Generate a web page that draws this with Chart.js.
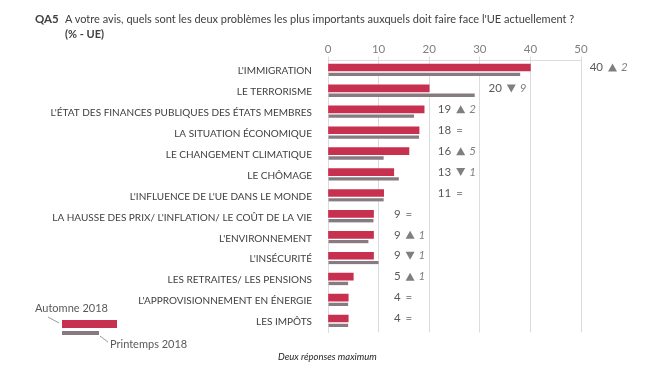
<!DOCTYPE html>
<html lang="fr">
<head>
    <meta charset="UTF-8">
    <title>QA5 - Problèmes UE</title>
    <style>
        body {
            margin: 0;
            background: #ffffff;
            font-family: Lato, "Open Sans", sans-serif;
        }
        .wrap {
            position: relative;
            width: 650px;
            height: 379px;
            overflow: hidden;
        }
        canvas {
            position: absolute;
            left: 0;
            top: 0;
        }
        .txt {
            position: absolute;
            white-space: nowrap;
            color: #404040;
            font-size: 11px;
        }
        .bold { font-weight: bold; }
    </style>
    <script src="https://cdn.jsdelivr.net/npm/chart.js"></script>
</head>
<body>
<div class="wrap">
    <canvas id="chart" width="650" height="379"></canvas>
    <div class="txt bold" style="left:35px; top:12px; font-size:11.5px;">QA5</div>
    <div class="txt" style="left:65px; top:12px;">A votre avis, quels sont les deux problèmes les plus importants auxquels doit faire face l'UE actuellement ?</div>
    <div class="txt bold" style="left:65px; top:27px;">(% - UE)</div>

    <div class="txt" style="left:35px; top:301px; color:#595959;">Automne 2018</div>
    <div style="position:absolute; left:62px; top:320px; width:55px; height:8px; background:#c8304f;"></div>
    <div style="position:absolute; left:62px; top:331px; width:37px; height:4px; background:#877a80;"></div>
    <div class="txt" style="left:110px; top:337px; color:#595959;">Printemps 2018</div>
    <svg style="position:absolute; left:0; top:0;" width="650" height="379">
        <line x1="48" y1="317" x2="59" y2="323" stroke="#808080" stroke-width="0.8"/>
        <line x1="100" y1="336" x2="108" y2="342" stroke="#808080" stroke-width="0.8"/>
    </svg>
    <div class="txt" style="left:278px; top:351px; font-size:9.5px; font-style:italic; color:#262626;">Deux réponses maximum</div>
</div>

<script>
    const categories = [
        "L'IMMIGRATION",
        "LE TERRORISME",
        "L'ÉTAT DES FINANCES PUBLIQUES DES ÉTATS MEMBRES",
        "LA SITUATION ÉCONOMIQUE",
        "LE CHANGEMENT CLIMATIQUE",
        "LE CHÔMAGE",
        "L'INFLUENCE DE L'UE DANS LE MONDE",
        "LA HAUSSE DES PRIX/ L'INFLATION/ LE COÛT DE LA VIE",
        "L'ENVIRONNEMENT",
        "L'INSÉCURITÉ",
        "LES RETRAITES/ LES PENSIONS",
        "L'APPROVISIONNEMENT EN ÉNERGIE",
        "LES IMPÔTS"
    ];
    const automne2018 = [40, 20, 19, 18, 16, 13, 11, 9, 9, 9, 5, 4, 4];
    const printemps2018 = [38, 29, 17, 18, 11, 14, 11, 9, 8, 10, 4, 4, 4];
    const evolution = [2, -9, 2, 0, 5, -1, 0, 0, 1, -1, 1, 0, 0];
    const xTicks = [0, 10, 20, 30, 40, 50];

    const red = '#c8304f';
    const grey = '#877a80';
    const gridColor = '#dcdcdc';

    // annotations "valeur ▲ évolution" placed after the next gridline
    const annotationPlugin = {
        id: 'annotations',
        afterDatasetsDraw(chart) {
            const ctx = chart.ctx;
            const x = chart.scales.x;
            const y = chart.scales.y;
            ctx.save();
            categories.forEach((c, i) => {
                const col = (Math.floor(automne2018[i] / 10) + 1) * 10;
                const xr = x.getPixelForValue(col) + 22;
                const yc = y.getPixelForValue(i) - 3.5;
                ctx.textBaseline = 'middle';
                ctx.font = '11.5px Lato';
                ctx.fillStyle = '#595959';
                ctx.textAlign = 'right';
                ctx.fillText(String(automne2018[i]), xr, yc);
                ctx.textAlign = 'left';
                const d = evolution[i];
                if (d === 0) {
                    ctx.fillStyle = '#8c8c8c';
                    ctx.fillText('=', xr + 5, yc);
                } else {
                    ctx.fillStyle = '#7f7f7f';
                    ctx.beginPath();
                    if (d > 0) {
                        ctx.moveTo(xr + 5, yc + 4);
                        ctx.lineTo(xr + 14, yc + 4);
                        ctx.lineTo(xr + 9.5, yc - 4);
                    } else {
                        ctx.moveTo(xr + 5, yc - 4);
                        ctx.lineTo(xr + 14, yc - 4);
                        ctx.lineTo(xr + 9.5, yc + 4);
                    }
                    ctx.closePath();
                    ctx.fill();
                    ctx.font = 'italic 11.5px Lato';
                    ctx.fillText(String(Math.abs(d)), xr + 18, yc);
                }
            });
            ctx.restore();
        }
    };

    new Chart(document.getElementById('chart'), {
        type: 'bar',
        data: {
            labels: categories,
            datasets: [{
                label: 'Automne 2018',
                data: automne2018,
                backgroundColor: red,
                barThickness: 7,
                borderWidth: 0
            }, {
                label: 'Printemps 2018',
                data: printemps2018,
                backgroundColor: grey,
                borderColor: '#ffffff',
                borderWidth: { top: 2, right: 0, bottom: 0, left: 0 },
                borderSkipped: false,
                barThickness: 5
            }]
        },
        options: {
            indexAxis: 'y',
            responsive: false,
            animation: false,
            devicePixelRatio: 1,
            layout: {
                padding: { left: 0, right: 69, top: 0, bottom: 46.5 }
            },
            plugins: {
                legend: { display: false },
                tooltip: { enabled: false }
            },
            scales: {
                x: {
                    position: 'top',
                    min: 0,
                    max: 50,
                    afterBuildTicks: s => { s.ticks = xTicks.map(v => ({ value: v })); },
                    afterFit: s => { s.height = 60.5; },
                    ticks: {
                        color: '#7f7f7f',
                        font: { family: 'Lato', size: 11.5 },
                        padding: 0
                    },
                    grid: {
                        color: gridColor,
                        tickLength: 4
                    },
                    border: { display: true, color: gridColor }
                },
                y: {
                    afterFit: s => { s.width = 328; },
                    ticks: {
                        color: '#404040',
                        font: { family: 'Lato', size: 10 },
                        padding: 8
                    },
                    grid: { display: false },
                    border: { display: true, color: gridColor }
                }
            }
        },
        plugins: [annotationPlugin]
    });
</script>
</body>
</html>
